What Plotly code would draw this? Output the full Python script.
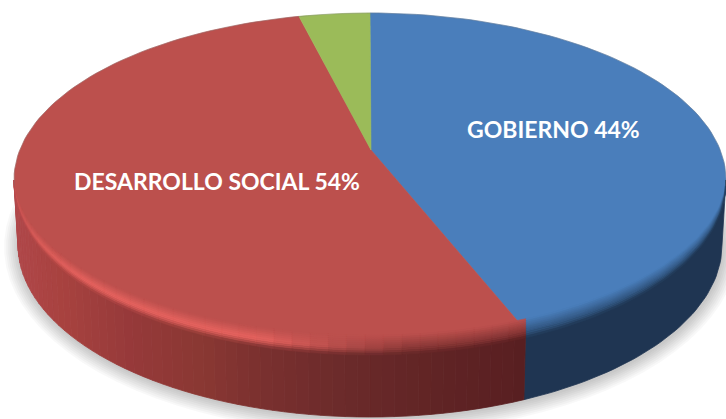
import math
import plotly.graph_objects as go

# ---- data ----
categories = ["GOBIERNO", "OTROS", "DESARROLLO SOCIAL"]
shares = [42.8, 3.2, 54.0]          # angular share of each slice as drawn
label_values = [44, None, 54]
slice_colors = ["#4A7EBB", "#9BBB59", "#BC504D"]

# ---- styling / projection ----
W, H = 726, 419
CX, CY, RX, RY = 370, 180, 356, 167
BX, BY, BRX, BRY = 370, 245, 352, 172
APEX = (371, 150)
BEVEL_UP, BEVEL_DOWN = 12, 8
RED_SIDE_X = [14, 60, 130, 200, 260, 350, 450, 525]
RED_SIDE_C = ["#B0474A", "#A8423F", "#96393A", "#8A3833", "#7A302F", "#6A2A2A", "#5F2324", "#581F21"]
BLUE_SIDE = "#1F3552"
RED_HL_X = [14, 40, 80, 260, 340, 410, 525]
RED_HL_A = [0.4, 0.8, 1.0, 1.0, 0.4, 0.0, 0.0]
HL = "#E6635F"


def hex_rgb(c):
    return tuple(int(c[i:i + 2], 16) for i in (1, 3, 5))


def mix(a, b, f):
    ra, rb = hex_rgb(a), hex_rgb(b)
    return "#%02X%02X%02X" % tuple(round(ra[i] + (rb[i] - ra[i]) * f) for i in range(3))


def interp(x, xs, ys):
    if x <= xs[0]:
        return 0, 0.0
    for i in range(len(xs) - 1):
        if x <= xs[i + 1]:
            return i, (x - xs[i]) / (xs[i + 1] - xs[i])
    return len(xs) - 2, 1.0


def rim(t):
    a = math.radians(t)
    return CX + RX * math.sin(a), CY - RY * math.cos(a)


def base(t):
    a = math.radians(t)
    return BX + BRX * math.sin(a), BY - BRY * math.cos(a)


def frange(a, b, step):
    n = max(1, int(math.ceil(abs(b - a) / step)))
    return [a + (b - a) * i / n for i in range(n + 1)]


fig = go.Figure()


def poly(xs, ys, color, line=0.8):
    fig.add_trace(go.Scatter(
        x=xs, y=ys, mode="lines", fill="toself", fillcolor=color,
        line=dict(color=color, width=line), hoverinfo="skip", showlegend=False))


# shadow below the disc
for k in range(15, 0, -2):
    ts = frange(0, 360, 4)
    poly([BX + 1 + (BRX + k) * math.sin(math.radians(t)) for t in ts],
         [BY + 2 + (BRY + k) * -math.cos(math.radians(t)) for t in ts],
         "rgba(0,0,0,0.028)", line=0)

# slice spans (clockwise from top)
total = sum(shares)
spans = {}
start = 0.0
order = [0, 2, 1]  # blue, red, green clockwise
for i in order:
    sweep = 360 * shares[i] / total
    spans[i] = (start, start + sweep)
    start += sweep


def side_color(i, x):
    if i == 0:
        return BLUE_SIDE
    if i == 2:
        k, f = interp(x, RED_SIDE_X, RED_SIDE_C)
        return mix(RED_SIDE_C[k], RED_SIDE_C[k + 1], f)
    return "#5F7236"


def hl_amount(i, x):
    if i != 2:
        return 0.0
    k, f = interp(x, RED_HL_X, RED_HL_A)
    return RED_HL_A[k] + (RED_HL_A[k + 1] - RED_HL_A[k]) * f


def weight(t):
    return max(0.0, -math.cos(math.radians(t))) ** 0.4


def off(v, t):
    return (-BEVEL_UP + (BEVEL_UP + BEVEL_DOWN) * v) * weight(t)


def wall(ts, color):
    r = [rim(t) for t in ts]
    b = [base(t) for t in reversed(ts)]
    poly([p[0] for p in r + b] + [r[0][0]], [p[1] for p in r + b] + [r[0][1]], color)


def band(ts, v0, v1, color):
    up = [(rim(t)[0], rim(t)[1] + off(v0, t)) for t in ts]
    dn = [(rim(t)[0], rim(t)[1] + off(v1, t)) for t in reversed(ts)]
    pts = up + dn + up[:1]
    poly([p[0] for p in pts], [p[1] for p in pts], color, line=0.5)


def band_color(top_c, side_c, h, vm):
    peak = mix(mix(top_c, side_c, 0.5), HL, h)
    if vm < 0.6:
        return mix(top_c, peak, (vm / 0.6) ** 1.1)
    return mix(peak, side_c, ((vm - 0.6) / 0.4) ** 1.5)


# side walls
for i in order:
    a, b = spans[i]
    lo, hi = max(a, 90), min(b, 270)
    if hi <= lo:
        continue
    if i == 0:
        wall(frange(lo, hi, 1.5), BLUE_SIDE)
    else:
        ts = frange(lo, hi, 2)
        for t0, t1 in zip(ts[:-1], ts[1:]):
            wall([t0, t1], side_color(i, (rim(t0)[0] + rim(t1)[0]) / 2))

# top faces
for i in order:
    a, b = spans[i]
    pts = [rim(t) for t in frange(a, b, 1.5)]
    poly([APEX[0]] + [p[0] for p in pts] + [APEX[0]],
         [APEX[1]] + [p[1] for p in pts] + [APEX[1]], slice_colors[i], line=0.6)

# bevel: vertical gradient across the rim on the visible front edge
N_BANDS = 10
for i in order:
    a, b = spans[i]
    lo, hi = max(a, 90), min(b, 270)
    if hi <= lo:
        continue
    for j in range(N_BANDS):
        v0, v1 = j / N_BANDS, (j + 1) / N_BANDS
        vm = (v0 + v1) / 2
        if i == 0:
            band(frange(lo, hi, 1.5), v0, v1,
                 band_color(slice_colors[i], BLUE_SIDE, 0.0, vm))
        else:
            ts = frange(lo, hi, 3)
            for t0, t1 in zip(ts[:-1], ts[1:]):
                xm = (rim(t0)[0] + rim(t1)[0]) / 2
                band([t0, t1], v0, v1,
                     band_color(slice_colors[i], side_color(i, xm), hl_amount(i, xm), vm))

# thin grey edge on the far rim
ts = frange(-92, 92, 2)
fig.add_trace(go.Scatter(x=[rim(t)[0] for t in ts], y=[rim(t)[1] for t in ts], mode="lines",
                         line=dict(color="rgba(120,120,120,0.4)", width=0.8),
                         hoverinfo="skip", showlegend=False))

label_pos = {0: (553, 129), 2: (216.5, 181)}
for i, (x, y) in label_pos.items():
    fig.add_annotation(x=x, y=y, text=f"{categories[i]} {label_values[i]}%", showarrow=False,
                       font=dict(family="Lato", size=23, color="white", weight="bold"))

fig.update_layout(
    width=W, height=H, margin=dict(l=0, r=0, t=0, b=0),
    paper_bgcolor="white", plot_bgcolor="white", showlegend=False,
    xaxis=dict(range=[0, W], visible=False, fixedrange=True),
    yaxis=dict(range=[H, 0], visible=False, fixedrange=True),
)
fig.write_html("out.html", config={"displayModeBar": False},
               post_script="document.body.style.margin='0';document.body.style.overflow='hidden';")
